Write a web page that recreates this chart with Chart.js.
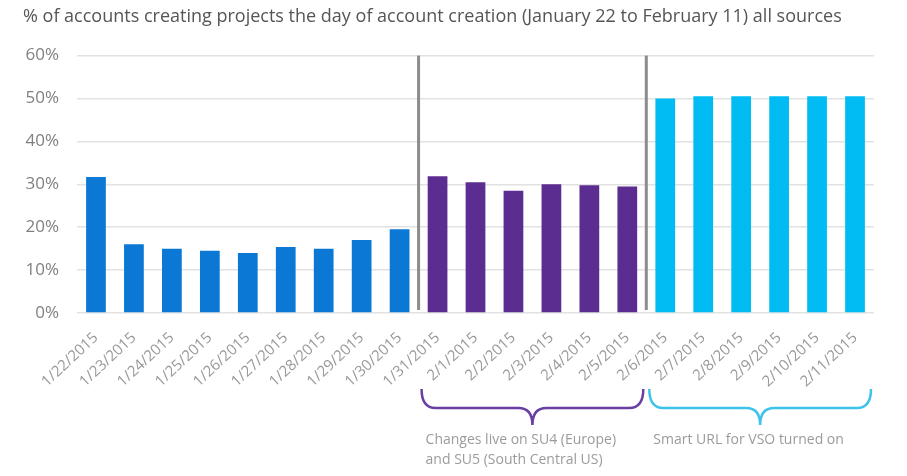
<!DOCTYPE html>
<html>
<head>
<meta charset="utf-8">
<script src="https://cdn.jsdelivr.net/npm/chart.js@4.4.1/dist/chart.umd.min.js"></script>
<style>
    html, body { margin: 0; padding: 0; background: #fff; }
    #wrap { width: 907px; height: 476px; }
</style>
</head>
<body>
<div id="wrap"><canvas id="accountsChart"></canvas></div>
<script>
const categories = ['1/22/2015', '1/23/2015', '1/24/2015', '1/25/2015', '1/26/2015', '1/27/2015', '1/28/2015',
    '1/29/2015', '1/30/2015', '1/31/2015', '2/1/2015', '2/2/2015', '2/3/2015', '2/4/2015', '2/5/2015',
    '2/6/2015', '2/7/2015', '2/8/2015', '2/9/2015', '2/10/2015', '2/11/2015'];
const values = [31.7, 16.0, 15.0, 14.5, 14.0, 15.4, 15.0, 17.0, 19.5,
    31.9, 30.5, 28.5, 30.0, 29.8, 29.5,
    50.0, 50.5, 50.5, 50.5, 50.5, 50.5];
// which phase each day belongs to (0 = before, 1 = SU4/SU5 change, 2 = smart URL)
const phases = [0, 0, 0, 0, 0, 0, 0, 0, 0, 1, 1, 1, 1, 1, 1, 2, 2, 2, 2, 2, 2];
const phaseColors = ['#0A78D4', '#5C2D91', '#00BCF2'];
const yTickValues = [0, 10, 20, 30, 40, 50, 60];
const dividerStarts = [9, 15];               // first bar of a new phase
const noteRanges = [[9, 14], [15, 20]];
const noteColors = ['#6A3FA3', '#3EC3EA'];
const noteLines = [
    ['Changes live on SU4 (Europe)', 'and SU5 (South Central US)'],
    ['Smart URL for VSO turned on']
];
const title = '% of accounts creating projects the day of account creation (January 22 to February 11) all sources';

const FONT = "'Open Sans', 'Noto Sans', sans-serif";

function drawBrace(ctx, x0, x1, top, mid, tip) {
    const cx = (x0 + x1) / 2;
    const r = 14;
    ctx.beginPath();
    ctx.moveTo(x0, top);
    ctx.quadraticCurveTo(x0, mid, x0 + r, mid);
    ctx.lineTo(cx - r, mid);
    ctx.quadraticCurveTo(cx, mid, cx, tip);
    ctx.quadraticCurveTo(cx, mid, cx + r, mid);
    ctx.lineTo(x1 - r, mid);
    ctx.quadraticCurveTo(x1, mid, x1, top);
    ctx.stroke();
}

const annotations = {
    id: 'annotations',
    afterDatasetsDraw(chart) {
        const { ctx, chartArea, scales: { x, y } } = chart;
        const half = (x.getPixelForTick(1) - x.getPixelForTick(0)) / 2;
        ctx.save();

        // phase dividers
        ctx.strokeStyle = '#8C8C8C';
        ctx.lineWidth = 3;
        dividerStarts.forEach(i => {
            const px = x.getPixelForTick(i) - half;
            ctx.beginPath();
            ctx.moveTo(px, chartArea.top);
            ctx.lineTo(px, y.getPixelForValue(0) - 3);
            ctx.stroke();
        });

        // braces + notes under the axis
        const base = chartArea.bottom;
        noteRanges.forEach(([a, b], k) => {
            const x0 = x.getPixelForTick(a) - half + 3;
            const x1 = x.getPixelForTick(b) + half - 3;
            ctx.strokeStyle = noteColors[k];
            ctx.lineWidth = 2.5;
            drawBrace(ctx, x0, x1, base + 76, base + 95, base + 112);

            ctx.fillStyle = '#9B9B9B';
            ctx.font = '14px ' + FONT;
            ctx.textAlign = 'left';
            ctx.textBaseline = 'middle';
            noteLines[k].forEach((line, j) => {
                ctx.fillText(line, x0 + 4, base + 127 + j * 20);
            });
        });
        ctx.restore();
    }
};

const ctx = document.getElementById('accountsChart').getContext('2d');

new Chart(ctx, {
    type: 'bar',
    data: {
        labels: categories,
        datasets: [{
            label: 'Accounts creating projects',
            data: values,
            backgroundColor: phases.map(p => phaseColors[p]),
            categoryPercentage: 1,
            barPercentage: 0.52
        }]
    },
    options: {
        responsive: true,
        maintainAspectRatio: false,
        animation: false,
        layout: { padding: { left: 23, right: 33, top: 0, bottom: 0 } },
        plugins: {
            legend: { display: false },
            tooltip: { enabled: false },
            title: {
                display: true,
                text: title,
                align: 'start',
                color: '#555555',
                font: { family: FONT, size: 18, weight: 'normal' },
                padding: { top: 6, bottom: 28 }
            }
        },
        scales: {
            x: {
                grid: { display: false },
                border: { display: false },
                ticks: {
                    autoSkip: false,
                    minRotation: 43,
                    maxRotation: 43,
                    padding: 8,
                    color: '#999999',
                    font: { family: FONT, size: 15 }
                },
                afterFit: s => { s.height = 163; }
            },
            y: {
                min: 0,
                max: 60,
                afterBuildTicks: s => { s.ticks = yTickValues.map(v => ({ value: v })); },
                ticks: {
                    padding: 18,
                    color: '#808080',
                    font: { family: FONT, size: 17 },
                    callback: v => v + '%'
                },
                grid: { color: '#E2E2E2', lineWidth: 1.5, drawTicks: false },
                border: { display: false },
                afterFit: s => { s.width = 54; }
            }
        }
    },
    plugins: [annotations]
});
</script>
</body>
</html>
